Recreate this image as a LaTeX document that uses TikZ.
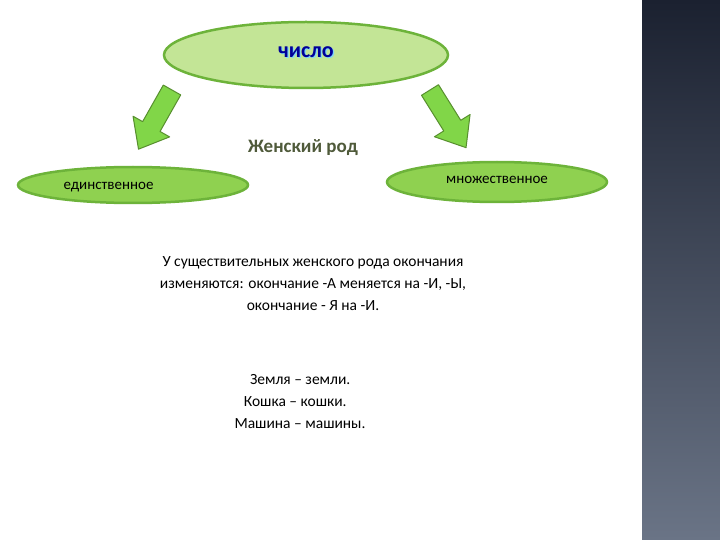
\documentclass[tikz,border=0pt]{standalone}
\usepackage{fontspec}
\setmainfont{Carlito}
\usetikzlibrary{shapes.geometric}
\definecolor{barTop}{HTML}{1B2130}
\definecolor{barBot}{HTML}{6A7486}
\definecolor{lg}{HTML}{C3E596}
\definecolor{mg}{HTML}{8FD150}
\definecolor{bd}{HTML}{6DB33A}
\definecolor{ttl}{HTML}{4F5A3A}
\begin{document}
\begin{tikzpicture}[x=1pt,y=-1pt,
  oval/.style={ellipse,draw=bd,line width=2.5pt,inner sep=0pt},
  bigarrow/.style={fill=mg!90!green,draw=bd!80!black,line width=1pt,line join=round},
  numtxt/.style={font=\bfseries\fontsize{22}{24}\selectfont}]
\useasboundingbox (0,0) rectangle (720,540);
\fill[white] (0,0) rectangle (720,540);
\shade[top color=barTop,bottom color=barBot] (642,0) rectangle (720,540);
\node[oval,fill=lg,minimum width=284pt,minimum height=66pt] (num) at (306,55) {};
\node[numtxt,text=cyan!50] (numsh) at (307.2,53.2) {число};
\node[numtxt,text=blue!60!black] (numt) at (306,52) {число};
\node[oval,fill=mg,minimum width=230pt,minimum height=36pt] (sg) at (133,185) {};
\node[font=\fontsize{15}{17}\selectfont,anchor=west] (sgt) at (60,187) {единственное};
\node[oval,fill=mg,minimum width=220pt,minimum height=40pt] (pl) at (497,182) {};
\node[font=\fontsize{15}{17}\selectfont] (plt) at (497,180) {множественное};
\node[font=\bfseries\fontsize{19}{21}\selectfont,text=ttl] (fem) at (303,148) {Женский род};
\begin{scope}[xshift=172pt,yshift=-90pt,rotate=-119.5]
  \draw[bigarrow] (0,10)--(42,10)--(42,21)--(68,0)--(42,-21)--(42,-10)--(0,-10)--cycle;
\end{scope}
\begin{scope}[xshift=430pt,yshift=-90pt,rotate=-58]
  \draw[bigarrow] (0,10)--(42,10)--(42,21)--(68,0)--(42,-21)--(42,-10)--(0,-10)--cycle;
\end{scope}
\node[font=\fontsize{15.5}{22}\selectfont,align=center] (rule) at (313,284)
 {У существительных женского рода окончания\\изменяются: окончание -А меняется на -И, -Ы,\\окончание - Я на -И.};
\node[font=\fontsize{15.5}{22}\selectfont,align=left] (ex) at (300,402)
 {\hspace*{1em}Земля – земли.\\\hspace*{0.6em}Кошка – кошки.\\Машина – машины.};
\end{tikzpicture}
\end{document}
